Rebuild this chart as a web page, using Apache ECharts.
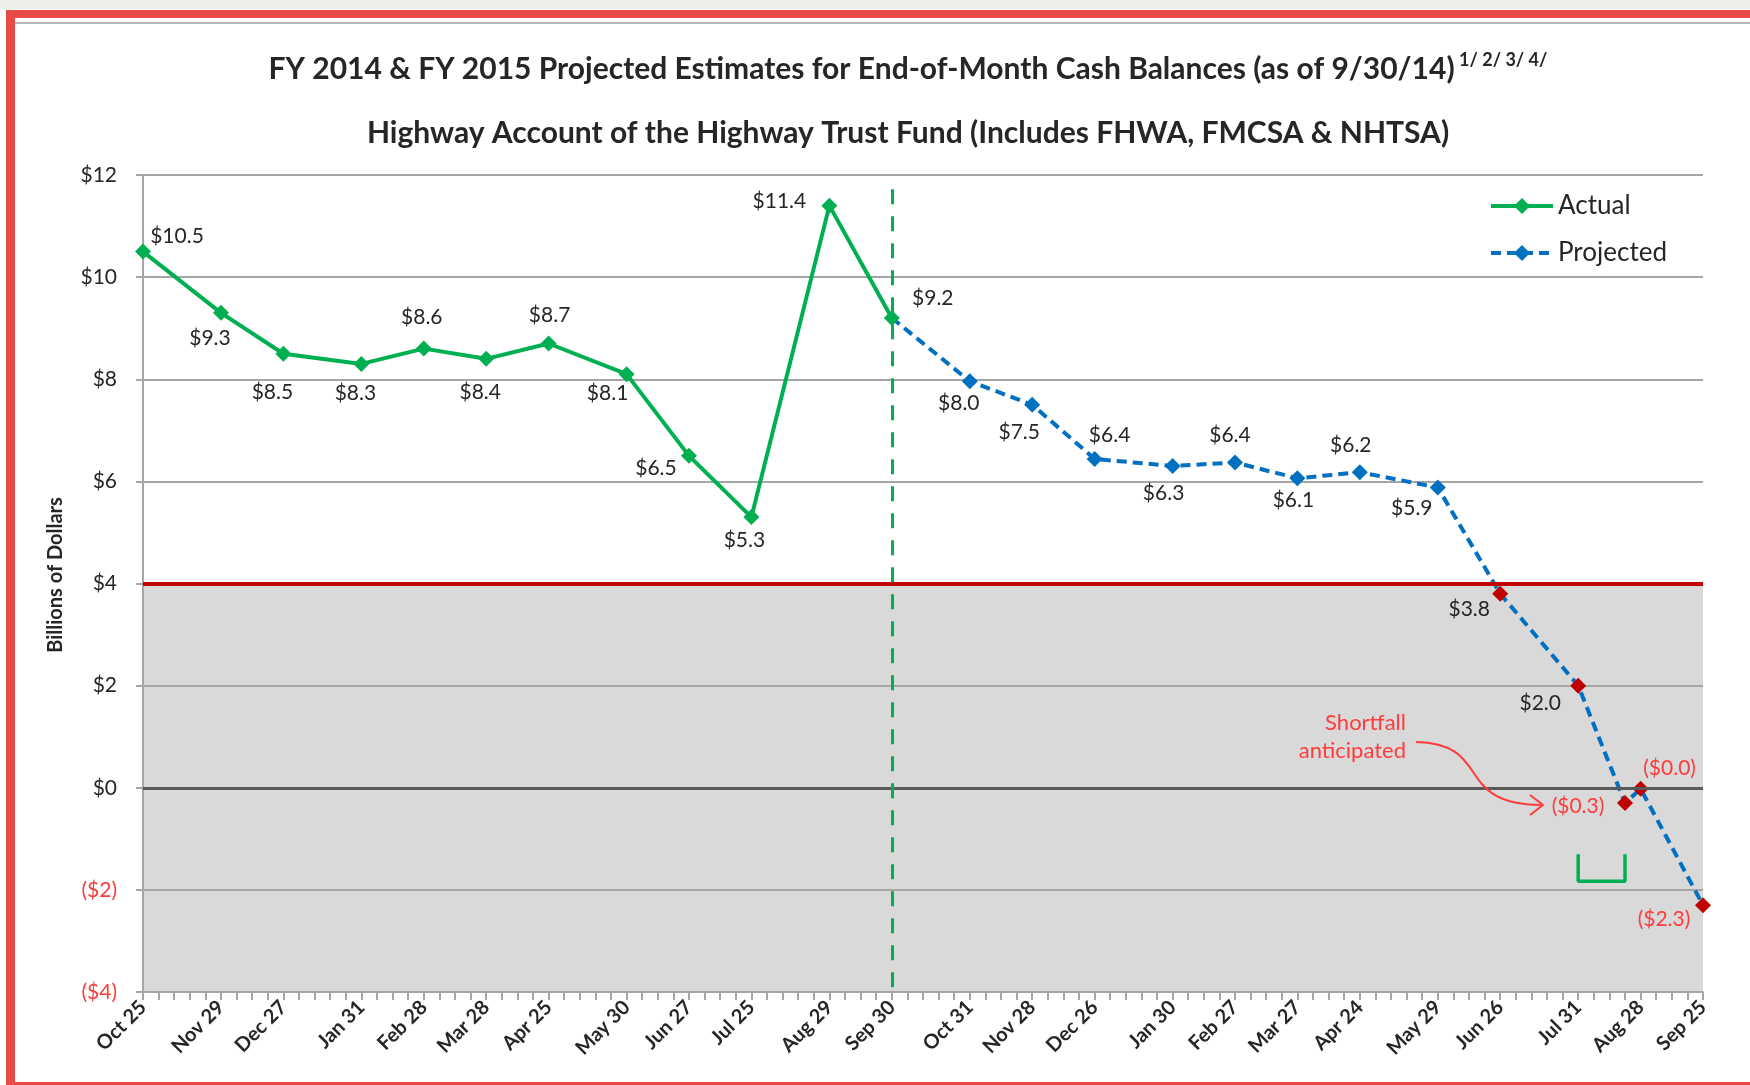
<!DOCTYPE html>
<html><head><meta charset="utf-8">
<script src="https://cdn.jsdelivr.net/npm/echarts@6/dist/echarts.min.js"></script>
<style>html,body{margin:0;padding:0;background:#fff}#c{width:1750px;height:1085px}</style>
</head><body><div id="c"></div>
<script>
// ---- axis definition: weekly (Friday) slots from Oct 25, 2013 to Sep 25, 2015
const firstWeek = '2013-10-25';
const weekCount = 101;

// ---- tick labels (shown only at month-end weeks)
const tickLabelDates = ['2013-10-25','2013-11-29','2013-12-27','2014-01-31','2014-02-28','2014-03-28','2014-04-25','2014-05-30','2014-06-27','2014-07-25','2014-08-29','2014-09-26','2014-10-31','2014-11-28','2014-12-26','2015-01-30','2015-02-27','2015-03-27','2015-04-24','2015-05-29','2015-06-26','2015-07-31','2015-08-28','2015-09-25'];
const tickLabelTexts = ['Oct 25','Nov 29','Dec 27','Jan 31','Feb 28','Mar 28','Apr 25','May 30','Jun 27','Jul 25','Aug 29','Sep 30','Oct 31','Nov 28','Dec 26','Jan 30','Feb 27','Mar 27','Apr 24','May 29','Jun 26','Jul 31','Aug 28','Sep 25'];

// ---- series data (billions of dollars)
const actualDates = ['2013-10-25','2013-11-29','2013-12-27','2014-01-31','2014-02-28','2014-03-28','2014-04-25','2014-05-30','2014-06-27','2014-07-25','2014-08-29','2014-09-26'];
const actualValues = [10.5, 9.3, 8.5, 8.3, 8.6, 8.4, 8.7, 8.1, 6.5, 5.3, 11.4, 9.2];
const projectedDates = ['2014-09-26','2014-10-31','2014-11-28','2014-12-26','2015-01-30','2015-02-27','2015-03-27','2015-04-24','2015-05-29','2015-06-26','2015-07-31','2015-08-21','2015-08-28','2015-09-25'];
const projectedValues = [9.2, 7.96, 7.5, 6.44, 6.3, 6.37, 6.06, 6.18, 5.88, 3.8, 2.0, -0.3, -0.02, -2.3];

// ---- reference values
const yMin = -4, yMax = 12, yStep = 2;
const thresholdValue = 4;
const fyBoundaryDate = '2014-09-26';
const fyBoundaryTop = 11.72;
const bracketDates = ['2015-07-31','2015-07-31','2015-08-21','2015-08-21'];
const bracketValues = [-1.3, -1.83, -1.83, -1.3];

// ---- label placement (pixel offsets from each point) - styling only
const actualLabelOffsets = [[34,-15],[-11,25],[-11,39],[-6,29],[-2,-31],[-6,33],[1,-28],[-19,19],[-33,12],[-7,23],[-50,-4],[41,-20]];
const projectedLabelOffsets = [null,[-11,22],[-13,27],[15,-24],[-9,27],[-5,-27],[-4,22],[-9,-27],[-26,21],[-31,16],[-38,18],[-47,3],[29,-21],[-39,14]];

const GREEN = '#00b050', BLUE = '#0070c0', DARKRED = '#c00000', RED = '#ff3b3b', TXT = '#262626', GRID = '#a6a6a6';
const FONT = 'Lato';

const weekDates = [];
(function(){
  const d0 = new Date(firstWeek + 'T00:00:00Z');
  for (let i = 0; i < weekCount; i++) {
    const d = new Date(d0.getTime() + i * 7 * 86400000);
    weekDates.push(d.toISOString().slice(0,10));
  }
})();
const labelMap = {};
tickLabelDates.forEach((d,i) => labelMap[d] = tickLabelTexts[i]);

function money(v){
  return v < 0 ? '($' + Math.abs(v).toFixed(1) + ')' : '$' + v.toFixed(1);
}

const actualData = actualDates.map((d,i) => ({
  value: [d, actualValues[i]],
  label: { offset: actualLabelOffsets[i], color: actualValues[i] < 0 ? RED : TXT }
}));
const projectedData = projectedDates.map((d,i) => {
  const v = projectedValues[i];
  const item = { value: [d, v] };
  if (i === 0) { item.symbol = 'none'; item.label = { show:false }; }
  else item.label = { offset: projectedLabelOffsets[i], color: v < 0 ? RED : TXT };
  if (v < thresholdValue) item.itemStyle = { color: DARKRED };
  return item;
});

const chart = echarts.init(document.getElementById('c'), null, {renderer:'canvas'});

const bandColors = [];
for (let v = yMin; v < yMax; v += yStep) bandColors.push(v < thresholdValue ? '#d9d9d9' : '#ffffff');

const option = {
  backgroundColor: '#ffffff',
  animation: false,
  grid: { left: 143, right: 47, top: 175, bottom: 93, containLabel: false },
  legend: {
    data: ['Actual','Projected'], orient: 'vertical', left: 1484, top: 186,
    itemWidth: 62, itemHeight: 20, itemGap: 17,
    lineStyle: { width: 4 },
    textStyle: { fontFamily: FONT, fontSize: 26, color: TXT, lineHeight: 30 }
  },
  xAxis: {
    type: 'category', data: weekDates, boundaryGap: false,
    axisLine: { onZero: false, lineStyle: { color: GRID, width: 2 } },
    axisTick: { show: true, interval: 0, length: 8, lineStyle: { color: GRID, width: 2 } },
    axisLabel: {
      interval: (i, v) => labelMap[v] !== undefined,
      formatter: v => labelMap[v] || '',
      rotate: 45, margin: 12,
      fontFamily: FONT, fontWeight: 'bold', fontSize: 20, color: TXT
    },
    splitLine: { show: false }
  },
  yAxis: {
    type: 'value', min: yMin, max: yMax, interval: yStep,
    axisLine: { show: true, lineStyle: { color: GRID, width: 2 } },
    axisTick: { show: true, length: 7, lineStyle: { color: GRID, width: 2 } },
    axisLabel: {
      margin: 26, fontFamily: FONT, fontSize: 21,
      formatter: v => (Number(v) < 0 ? '($' + Math.abs(v) + ')' : '$' + v),
      color: v => (Number(v) < 0 ? RED : TXT)
    },
    splitLine: { lineStyle: { color: GRID, width: 2 } },
    splitArea: { show: true, areaStyle: { color: bandColors, opacity: 1 } }
  },
  series: [
    {
      name: 'refs', type: 'line', data: [], z: 1, silent: true,
      markLine: {
        silent: true, symbol: 'none', animation: false,
        label: { show: false },
        data: [
          { yAxis: 0, lineStyle: { color: '#595959', width: 3, type: 'solid' } },
          { yAxis: thresholdValue, lineStyle: { color: DARKRED, width: 4, type: 'solid' } },
          [ { coord: [fyBoundaryDate, fyBoundaryTop] }, { coord: [fyBoundaryDate, yMin], lineStyle: { color: GREEN, width: 3, type: [15, 12] } } ]
        ]
      }
    },
    {
      name: 'bracket', type: 'line', z: 2, silent: true, symbol: 'none',
      data: bracketDates.map((d,i) => [d, bracketValues[i]]),
      lineStyle: { color: GREEN, width: 3.5 }
    },
    {
      name: 'Projected', type: 'line', z: 3, data: projectedData,
      symbol: 'diamond', symbolSize: 16, showAllSymbol: true,
      itemStyle: { color: BLUE },
      lineStyle: { color: BLUE, width: 4, type: [10, 6] },
      label: { show: true, position: 'inside', formatter: p => money(p.value[1]), fontFamily: FONT, fontSize: 21 }
    },
    {
      name: 'Actual', type: 'line', z: 4, data: actualData,
      symbol: 'diamond', symbolSize: 16, showAllSymbol: true,
      itemStyle: { color: GREEN },
      lineStyle: { color: GREEN, width: 4 },
      label: { show: true, position: 'inside', formatter: p => money(p.value[1]), fontFamily: FONT, fontSize: 21 }
    }
  ],
  graphic: [
    // frame
    { type: 'rect', shape: { x: 0, y: 0, width: 1750, height: 9 }, style: { fill: '#eeeeea' }, silent: true },
    { type: 'rect', shape: { x: 6, y: 10, width: 1744, height: 8 }, style: { fill: '#e84a45' }, silent: true },
    { type: 'rect', shape: { x: 6, y: 10, width: 9, height: 1075 }, style: { fill: '#e84a45' }, silent: true },
    { type: 'rect', shape: { x: 15, y: 22, width: 1735, height: 2 }, style: { fill: '#b4b8bb' }, silent: true },
    { type: 'rect', shape: { x: 6, y: 1082, width: 1744, height: 3 }, style: { fill: '#e84a45' }, silent: true },
    // titles
    { type: 'text', x: 908, y: 69, silent: true,
      style: { text: '{m|FY 2014 & FY 2015 Projected Estimates for End-of-Month Cash Balances (as of 9/30/14)}{s| 1/ 2/ 3/ 4/}',
        align: 'center', verticalAlign: 'middle',
        rich: { m: { fontFamily: FONT, fontWeight: 'bold', fontSize: 30, fill: TXT },
                s: { fontFamily: FONT, fontWeight: 'bold', fontSize: 18, fill: TXT, padding: [0,0,18,0] } } } },
    { type: 'text', x: 908, y: 133, silent: true,
      style: { text: 'Highway Account of the Highway Trust Fund (Includes FHWA, FMCSA & NHTSA)',
        align: 'center', verticalAlign: 'middle', fontFamily: FONT, fontWeight: 'bold', fontSize: 30, fill: TXT } },
    // y axis title
    { type: 'text', x: 56, y: 575, rotation: Math.PI / 2, silent: true,
      style: { text: 'Billions of Dollars', align: 'center', verticalAlign: 'middle',
        fontFamily: FONT, fontWeight: 'bold', fontSize: 20, fill: TXT } },
    // annotation
    { type: 'text', x: 1406, y: 737, silent: true, z: 10,
      style: { text: 'Shortfall\nanticipated', align: 'right', verticalAlign: 'middle',
        fontFamily: FONT, fontSize: 22, lineHeight: 28, fill: RED } },
    { type: 'bezierCurve', silent: true, z: 10,
      shape: { x1: 1416, y1: 742, cpx1: 1494, cpy1: 744, cpx2: 1452, cpy2: 804, x2: 1541, y2: 805 },
      style: { stroke: RED, lineWidth: 2, fill: null } },
    { type: 'polyline', silent: true, z: 10,
      shape: { points: [[1530, 795], [1543, 805], [1530, 815]] },
      style: { stroke: RED, lineWidth: 2, fill: null } }
  ]
};
chart.setOption(option);
</script>
</body></html>
